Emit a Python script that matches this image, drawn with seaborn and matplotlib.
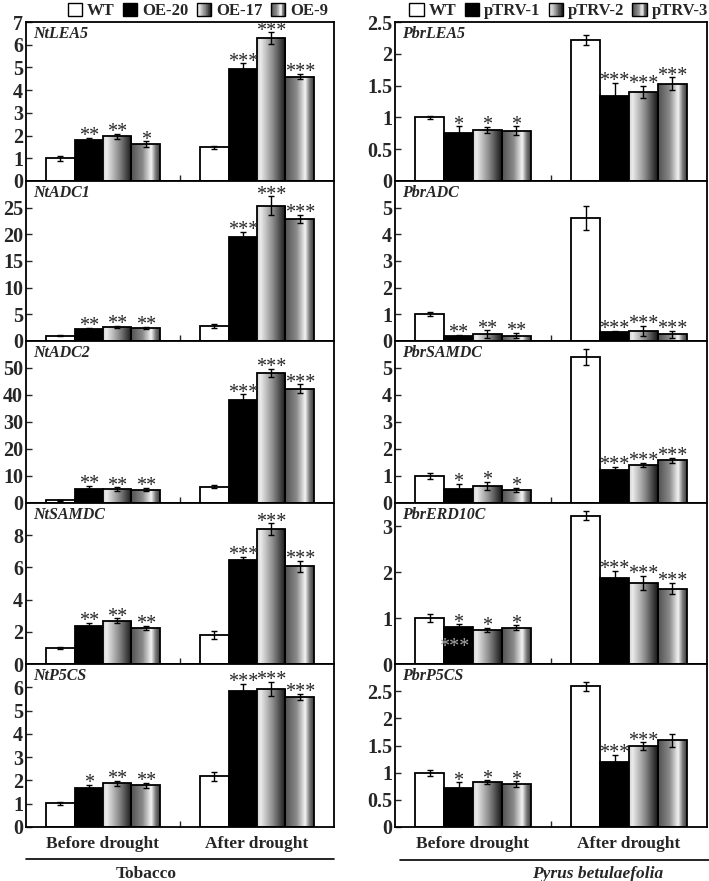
import matplotlib
matplotlib.use("Agg")
import matplotlib.pyplot as plt
import numpy as np
import pandas as pd
import seaborn as sns
from matplotlib.colors import LinearSegmentedColormap
from matplotlib.legend_handler import HandlerBase
from matplotlib.lines import Line2D
from matplotlib.patches import Patch, Rectangle

# ---- data ----
conditions = ["Before drought", "After drought"]
nt_lines = ["WT", "OE-20", "OE-17", "OE-9"]
pbr_lines = ["WT", "pTRV-1", "pTRV-2", "pTRV-3"]

# each row: WT, line1, line2, line3 before drought, then the same after drought
nt_genes = ["NtLEA5", "NtADC1", "NtADC2", "NtSAMDC", "NtP5CS"]
nt_means = [
    [1.0, 1.8, 1.97, 1.63, 1.48, 4.93, 6.3, 4.6],
    [1.0, 2.3, 2.6, 2.45, 2.8, 19.5, 25.4, 22.9],
    [1.0, 5.3, 5.2, 4.9, 6.0, 38.0, 48.1, 42.3],
    [1.0, 2.37, 2.68, 2.26, 1.8, 6.49, 8.39, 6.07],
    [1.01, 1.66, 1.87, 1.79, 2.17, 5.86, 5.94, 5.59],
]
nt_errs = [
    [0.12, 0.1, 0.1, 0.12, 0.08, 0.25, 0.25, 0.12],
    [0.1, 0.15, 0.2, 0.2, 0.35, 1.0, 1.7, 0.8],
    [0.2, 1.0, 0.6, 0.6, 0.6, 2.3, 1.6, 1.7],
    [0.08, 0.2, 0.15, 0.12, 0.25, 0.15, 0.35, 0.35],
    [0.06, 0.15, 0.12, 0.1, 0.2, 0.3, 0.3, 0.12],
]
nt_stars = [
    ["", "**", "**", "*", "", "***", "***", "***"],
    ["", "**", "**", "**", "", "***", "***", "***"],
    ["", "**", "**", "**", "", "***", "***", "***"],
    ["", "**", "**", "**", "", "***", "***", "***"],
    ["", "*", "**", "**", "", "***", "***", "***"],
]
nt_ymax = [7, 30, 60, 10, 7]
nt_ystep = [1, 5, 10, 2, 1]

pbr_genes = ["PbrLEA5", "PbrADC", "PbrSAMDC", "PbrERD10C", "PbrP5CS"]
pbr_means = [
    [1.0, 0.76, 0.8, 0.79, 2.22, 1.34, 1.40, 1.53],
    [1.0, 0.2, 0.25, 0.2, 4.6, 0.33, 0.38, 0.25],
    [1.0, 0.5, 0.63, 0.49, 5.41, 1.22, 1.4, 1.58],
    [1.0, 0.8, 0.74, 0.79, 3.22, 1.86, 1.76, 1.64],
    [0.99, 0.72, 0.83, 0.79, 2.59, 1.2, 1.49, 1.6],
]
pbr_errs = [
    [0.02, 0.1, 0.05, 0.07, 0.08, 0.2, 0.1, 0.1],
    [0.08, 0.03, 0.15, 0.1, 0.45, 0.05, 0.2, 0.12],
    [0.1, 0.2, 0.15, 0.08, 0.3, 0.12, 0.08, 0.1],
    [0.08, 0.06, 0.05, 0.05, 0.1, 0.17, 0.15, 0.12],
    [0.06, 0.1, 0.03, 0.05, 0.08, 0.13, 0.07, 0.12],
]
pbr_stars = [
    ["", "*", "*", "*", "", "***", "***", "***"],
    ["", "**", "**", "**", "", "***", "***", "***"],
    ["", "*", "*", "*", "", "***", "***", "***"],
    ["", "*", "*", "*", "", "***", "***", "***"],
    ["", "*", "*", "*", "", "***", "***", ""],
]
pbr_ymax = [2.5, 6, 6, 3.5, 3]
pbr_ystep = [0.5, 1, 1, 1, 0.5]

# stray grey stars printed inside the PbrERD10C pTRV-1 bar in the original
ghost_star_panel = 3
ghost_star_y = 0.35

# ---- styling ----
sns.set_style("white")
plt.rcParams["font.family"] = ["Liberation Serif", "DejaVu Serif"]
plt.rcParams["font.weight"] = "bold"
plt.rcParams["axes.edgecolor"] = "black"
plt.rcParams["axes.linewidth"] = 1.3

cmap17 = LinearSegmentedColormap.from_list(
    "g17", [(0, "#d0d0d0"), (0.12, "#ececec"), (0.55, "#8c8c8c"), (1, "#151515")])
cmap9 = LinearSegmentedColormap.from_list(
    "g9", [(0, "#505050"), (0.4, "#8a8a8a"), (0.7, "#f4f4f4"),
           (0.85, "#7a7a7a"), (1, "#3a3a3a")])
base_colors = ["white", "black", "#909090", "#707070"]
grad_maps = {2: cmap17, 3: cmap9}


class GradientHandler(HandlerBase):
    """Legend key drawn as vertical stripes of a colormap."""

    def __init__(self, cmap, n=20):
        super().__init__()
        self.cmap = cmap
        self.n = n

    def create_artists(self, legend, orig_handle, xdescent, ydescent,
                       width, height, fontsize, trans):
        arts = []
        for i in range(self.n):
            arts.append(Rectangle(
                (-xdescent + width * i / self.n, -ydescent), width / self.n, height,
                facecolor=self.cmap((i + 0.5) / self.n), edgecolor="none",
                transform=trans))
        arts.append(Rectangle((-xdescent, -ydescent), width, height,
                              facecolor="none", edgecolor="black", lw=1.0,
                              transform=trans))
        return arts


def draw_panel(ax, gene, lines, means, errs, stars, ymax, ystep, first, last):
    df = pd.DataFrame({
        "condition": np.repeat(conditions, 4),
        "line": lines * 2,
        "mean": means,
        "err": errs,
        "star": stars,
    })
    sns.barplot(data=df, x="condition", y="mean", hue="line",
                order=conditions, hue_order=lines, palette=base_colors,
                width=0.74, gap=0, errorbar=None, edgecolor="black",
                linewidth=1.3, legend=False, ax=ax)
    bars_info = []
    for h, cont in enumerate(ax.containers):
        for bar in cont:
            xc = bar.get_x() + bar.get_width() / 2
            ci = int(round(xc))
            row = df[(df["condition"] == conditions[ci]) & (df["line"] == lines[h])].iloc[0]
            bars_info.append((h, bar, xc, row))
            if h in grad_maps:
                grad = np.linspace(0, 1, 256).reshape(1, -1)
                im = ax.imshow(grad, cmap=grad_maps[h], aspect="auto",
                               extent=[bar.get_x(), bar.get_x() + bar.get_width(),
                                       0, bar.get_height()],
                               zorder=1.5, interpolation="bilinear")
                im.set_clip_path(bar)
                bar.set_facecolor("none")
                bar.set_zorder(2)
    for h, bar, xc, row in bars_info:
        ax.errorbar(xc, row["mean"], yerr=row["err"], fmt="none",
                    ecolor="black", elinewidth=1.0, capsize=2.2,
                    capthick=1.0, zorder=3)
        if row["star"]:
            ax.annotate(row["star"], xy=(xc, row["mean"] + row["err"]),
                        xytext=(0, -6), textcoords="offset points",
                        ha="center", va="bottom", fontsize=14.5,
                        fontweight="normal", zorder=4)
    ax.set_xlim(-0.5, 1.5)
    ax.set_ylim(0, ymax)
    ticks = np.arange(0, ymax + 1e-9, ystep)
    if not first:
        ticks = ticks[ticks < ymax - 1e-9]
    ax.set_yticks(ticks)
    ax.set_yticklabels([f"{t:g}" for t in ticks], fontsize=14.5, fontweight="bold")
    ax.set_xticks([0.5])
    ax.set_xticklabels([])
    ax.tick_params(axis="both", direction="in", length=4, width=1.0,
                   left=True, bottom=True, pad=2)
    ax.set_xlabel("")
    ax.set_ylabel("")
    ax.text(0.024, 0.925, gene, transform=ax.transAxes, fontsize=11.5,
            fontstyle="italic", fontweight="bold", va="center", ha="left")
    if last:
        for ci, cond in enumerate(conditions):
            ax.annotate(cond, xy=(ci, 0), xycoords=ax.get_xaxis_transform(),
                        xytext=(0, -12), textcoords="offset points",
                        ha="center", va="center", fontsize=12.5,
                        fontweight="bold")
    return bars_info


W, H = 709, 881
fig = plt.figure(figsize=(W / 100, H / 100), dpi=100)
row_edges = [22, 181, 341, 503, 664, 827]
col_specs = [(26, 308), (395, 312)]

columns = [
    (nt_genes, nt_lines, nt_means, nt_errs, nt_stars, nt_ymax, nt_ystep),
    (pbr_genes, pbr_lines, pbr_means, pbr_errs, pbr_stars, pbr_ymax, pbr_ystep),
]
for (x0, w), (genes, lines, means, errs, stars, ymaxs, ysteps) in zip(col_specs, columns):
    for r in range(5):
        top, bot = row_edges[r], row_edges[r + 1]
        ax = fig.add_axes([x0 / W, 1 - bot / H, w / W, (bot - top) / H])
        info = draw_panel(ax, genes[r], lines, means[r], errs[r], stars[r],
                          ymaxs[r], ysteps[r], r == 0, r == 4)
        if lines is pbr_lines and r == ghost_star_panel:
            for h, bar, xc, row in info:
                if h == 1 and row["condition"] == conditions[0]:
                    ax.text(xc - 0.03, ghost_star_y, "***", ha="center",
                            va="center", fontsize=14.5, fontweight="normal",
                            color="#a8a8a8", zorder=1.8)

# legends
legend_spots = [(68 / W, "center left"), (708 / W, "center right")]
for lines, (lx, lloc) in zip([nt_lines, pbr_lines], legend_spots):
    handles = [Patch(facecolor=c, edgecolor="black", lw=1.0) for c in base_colors]
    hmap = {handles[2]: GradientHandler(cmap17), handles[3]: GradientHandler(cmap9)}
    fig.legend(handles, lines, handler_map=hmap, loc=lloc,
               bbox_to_anchor=(lx, 1 - 11 / H), ncol=4, frameon=False,
               handlelength=0.85, handleheight=0.85, borderpad=0, borderaxespad=0,
               handletextpad=0.3, columnspacing=0.5,
               prop={"weight": "bold", "size": 12})

# species brackets
fig.add_artist(Line2D([26 / W, 334 / W], [1 - 859 / H] * 2, color="black", lw=1.2))
fig.add_artist(Line2D([400 / W, 709 / W], [1 - 860 / H] * 2, color="black", lw=1.2))
fig.text(146 / W, 1 - 874 / H, "Tobacco", ha="center", va="center",
         fontsize=12.5, fontweight="bold")
fig.text(598 / W, 1 - 874 / H, "Pyrus betulaefolia", ha="center", va="center",
         fontsize=12.5, fontweight="bold", fontstyle="italic")

fig.savefig("out.png", dpi=100)
